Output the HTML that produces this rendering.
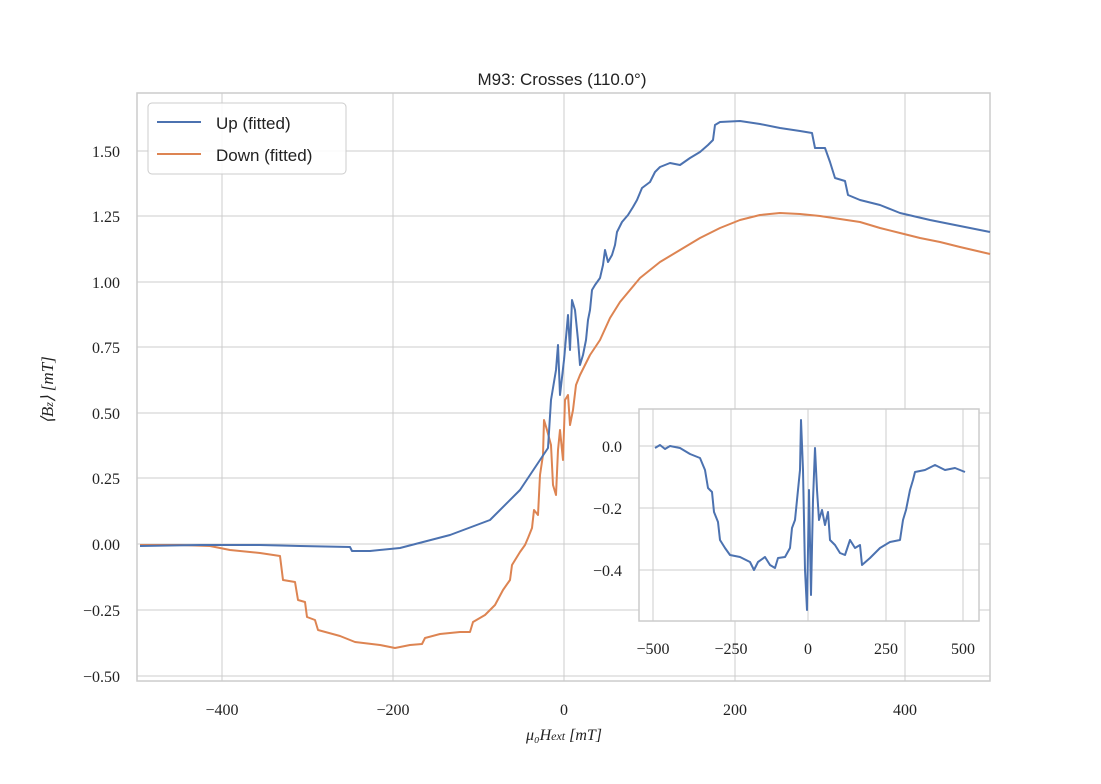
<!DOCTYPE html>
<html><head><meta charset="utf-8"><style>
body{margin:0;background:#fff}
svg text{font-family:"Liberation Serif",serif;fill:#222}
.s{font-family:"Liberation Sans",sans-serif}
</style></head><body>
<svg width="1101" height="779" viewBox="0 0 1101 779" xmlns="http://www.w3.org/2000/svg">
<rect width="1101" height="779" fill="#fff"/>
<g stroke="#cccccc" stroke-width="1">
<line x1="222" y1="93" x2="222" y2="681"/><line x1="393" y1="93" x2="393" y2="681"/><line x1="564" y1="93" x2="564" y2="681"/><line x1="735" y1="93" x2="735" y2="681"/><line x1="905" y1="93" x2="905" y2="681"/>
<line x1="137" y1="151" x2="990" y2="151"/><line x1="137" y1="216" x2="990" y2="216"/><line x1="137" y1="282" x2="990" y2="282"/><line x1="137" y1="347" x2="990" y2="347"/><line x1="137" y1="413" x2="990" y2="413"/><line x1="137" y1="478" x2="990" y2="478"/><line x1="137" y1="544" x2="990" y2="544"/><line x1="137" y1="610" x2="990" y2="610"/><line x1="137" y1="676" x2="990" y2="676"/>
</g>
<rect x="137" y="93" width="853" height="588" fill="none" stroke="#cccccc" stroke-width="1.5"/>
<g font-size="16" text-anchor="end">
<text x="120" y="157">1.50</text><text x="120" y="222">1.25</text><text x="120" y="288">1.00</text><text x="120" y="353">0.75</text><text x="120" y="419">0.50</text><text x="120" y="484">0.25</text><text x="120" y="550">0.00</text><text x="120" y="616">−0.25</text><text x="120" y="682">−0.50</text>
</g>
<g font-size="16" text-anchor="middle">
<text x="222" y="715">−400</text><text x="393" y="715">−200</text><text x="564" y="715">0</text><text x="735" y="715">200</text><text x="905" y="715">400</text>
<text x="564" y="740" font-style="italic">μ₀H<tspan font-size="12">ext</tspan> [mT]</text>
<text class="s" x="562" y="85" font-size="17">M93: Crosses (110.0°)</text>
</g>
<text x="53" y="390" font-size="17" text-anchor="middle" transform="rotate(-90 53 390)" font-style="italic">⟨B<tspan font-size="12">z</tspan>⟩ [mT]</text>
<polyline fill="none" stroke="#dd8452" stroke-width="2" stroke-linejoin="round" points="140,545 180,545 210,546 230,550 260,553 280,556 283,580 295,582 298,600 305,602 307,617 315,620 318,630 340,636 355,642 380,645 395,648 410,645 422,644 425,638 440,634 460,632 470,632 473,622 485,615 495,605 503,590 510,580 512,565 520,552 525,545 528,538 532,528 534,510 538,515 540,475 543,455 544,420 547,430 551,445 553,485 556,495 558,450 560,430 563,460 565,400 568,395 570,425 573,410 576,385 580,375 585,365 590,355 600,340 610,318 620,302 630,290 640,278 650,270 660,262 680,250 700,238 720,228 740,220 760,215 780,213 800,214 820,216 840,219 860,222 880,228 900,233 920,238 940,242 960,247 990,254"/>
<polyline fill="none" stroke="#4c72b0" stroke-width="2" stroke-linejoin="round" points="140,546 200,545 260,545 300,546 350,547 352,551 370,551 400,548 450,535 490,520 520,490 540,460 548,448 551,400 556,370 558,345 560,395 564,360 568,315 570,350 572,300 575,310 578,340 580,365 583,355 586,340 588,320 590,310 592,290 595,285 600,278 603,265 605,250 608,262 612,255 615,245 617,232 622,222 628,215 633,207 637,200 642,188 650,182 655,172 660,167 670,163 680,165 690,158 700,152 708,145 713,140 715,125 720,122 740,121 760,124 780,128 800,131 812,133 815,148 825,148 830,162 835,178 845,181 848,195 860,200 880,205 900,213 930,220 960,226 990,232"/>
<rect x="148" y="103" width="198" height="71" rx="4" fill="#fff" fill-opacity="0.85" stroke="#cccccc"/>
<line x1="157" y1="122" x2="201" y2="122" stroke="#4c72b0" stroke-width="2"/>
<line x1="157" y1="154" x2="201" y2="154" stroke="#dd8452" stroke-width="2"/>
<text class="s" x="216" y="129" font-size="17">Up (fitted)</text>
<text class="s" x="216" y="161" font-size="17">Down (fitted)</text>
<rect x="639" y="409" width="340" height="212" fill="#fff"/>
<g stroke="#cccccc" stroke-width="1">
<line x1="653" y1="409" x2="653" y2="621"/><line x1="731" y1="409" x2="731" y2="621"/><line x1="808" y1="409" x2="808" y2="621"/><line x1="886" y1="409" x2="886" y2="621"/><line x1="963" y1="409" x2="963" y2="621"/>
<line x1="639" y1="446" x2="979" y2="446"/><line x1="639" y1="508" x2="979" y2="508"/><line x1="639" y1="570" x2="979" y2="570"/>
</g>
<rect x="639" y="409" width="340" height="212" fill="none" stroke="#cccccc" stroke-width="1.5"/>
<polyline fill="none" stroke="#4c72b0" stroke-width="2" stroke-linejoin="round" points="655,448 660,445 665,449 670,446 675,447 680,448 690,454 700,458 705,470 708,488 712,492 714,512 718,522 720,540 725,548 730,555 740,557 750,562 754,570 758,562 765,557 770,565 775,568 778,558 785,557 790,548 792,528 795,520 797,500 800,470 801,420 803,470 805,570 807,610 809,490 811,595 813,500 815,448 817,490 819,520 822,510 825,525 828,512 830,540 835,545 840,553 845,555 850,540 855,548 860,545 862,565 870,558 880,548 890,542 900,540 903,520 906,510 910,490 913,480 915,472 925,470 935,465 945,470 955,468 965,472"/>
<g font-size="16" text-anchor="end">
<text x="622" y="452">0.0</text><text x="622" y="514">−0.2</text><text x="622" y="576">−0.4</text>
</g>
<g font-size="16" text-anchor="middle">
<text x="653" y="654">−500</text><text x="731" y="654">−250</text><text x="808" y="654">0</text><text x="886" y="654">250</text><text x="963" y="654">500</text>
</g>
</svg>
</body></html>
